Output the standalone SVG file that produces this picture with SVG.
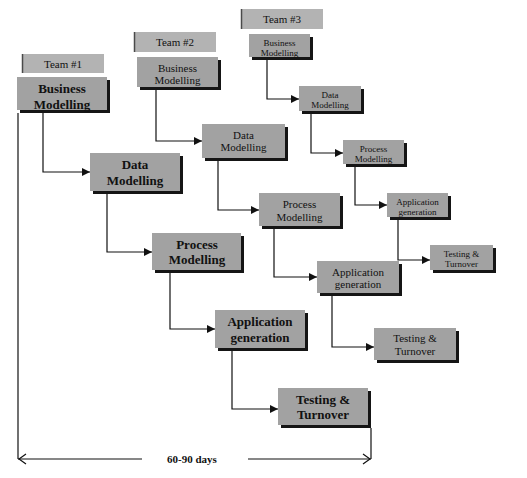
<svg xmlns="http://www.w3.org/2000/svg" width="527" height="478" viewBox="0 0 527 478">
<defs>
<marker id="arr" viewBox="0 0 10 10" refX="10" refY="5" markerWidth="9" markerHeight="8" markerUnits="userSpaceOnUse" orient="auto">
<path d="M0,0 L10,5 L0,10 Z" fill="#111"/>
</marker>
<style>
.box{fill:#a2a2a2}
.sh{fill:#151515}
.team{fill:#b3b3b3}
.tedge{stroke:#4a4a4a;stroke-width:1.5}
.conn{fill:none;stroke:#111;stroke-width:1.2}
text{font-family:'Liberation Serif','DejaVu Serif',serif;fill:#111;text-anchor:middle}
.b1{font-size:13px;font-weight:bold}
.r2{font-size:11px}
.r3{font-size:9px}
</style>
</defs>
<rect width="527" height="478" fill="#fff"/>

<g id="team1">
<rect x="22" y="54" width="82" height="19" class="team"/>
<line x1="22.5" y1="54" x2="22.5" y2="73" class="tedge"/>
<text x="63" y="67.5" class="r2" font-family="Liberation Serif">Team #1</text>
</g>
<g id="team2">
<rect x="134" y="32" width="82" height="20" class="team"/>
<line x1="134.5" y1="32" x2="134.5" y2="52" class="tedge"/>
<text x="175" y="46" class="r2">Team #2</text>
</g>
<g id="team3">
<rect x="241" y="9" width="82" height="20" class="team"/>
<line x1="241.5" y1="9" x2="241.5" y2="29" class="tedge"/>
<text x="282" y="23" class="r2">Team #3</text>
</g>

<g id="connectors">
<polyline class="conn" points="43,113 43,172 90,172" marker-end="url(#arr)"/>
<polyline class="conn" points="107,194 107,252 152,252" marker-end="url(#arr)"/>
<polyline class="conn" points="170,273 170,329 215,329" marker-end="url(#arr)"/>
<polyline class="conn" points="232,351 232,409 278,409" marker-end="url(#arr)"/>

<polyline class="conn" points="156,90 156,141 202,141" marker-end="url(#arr)"/>
<polyline class="conn" points="218,161 218,210 259,210" marker-end="url(#arr)"/>
<polyline class="conn" points="274,229 274,277 317,277" marker-end="url(#arr)"/>
<polyline class="conn" points="332,296 332,347 374,347" marker-end="url(#arr)"/>

<polyline class="conn" points="267,60 267,99 299,99" marker-end="url(#arr)"/>
<polyline class="conn" points="311,114 311,153 343,153" marker-end="url(#arr)"/>
<polyline class="conn" points="355,167 355,205 387,205" marker-end="url(#arr)"/>
<polyline class="conn" points="398,220 398,260 430,260" marker-end="url(#arr)"/>

<line class="conn" x1="18" y1="113" x2="18" y2="459"/>
<line class="conn" x1="371" y1="428" x2="371" y2="459"/>
<line class="conn" x1="18" y1="459" x2="142" y2="459"/>
<line class="conn" x1="248" y1="459" x2="371" y2="459"/>
<polyline class="conn" points="26,454 19,459 26,464"/>
<polyline class="conn" points="363,454 370,459 363,464"/>
</g>
<text x="192" y="463" style="font-size:11px;font-weight:bold">60-90 days</text>

<g id="t1-business">
<rect x="20" y="80" width="90" height="33" class="sh"/>
<rect x="17" y="77" width="90" height="33" class="box"/>
<text x="62" y="93" class="b1">Business</text>
<text x="62" y="108.5" class="b1">Modelling</text>
</g>
<g id="t1-data">
<rect x="93" y="156" width="90" height="38" class="sh"/>
<rect x="90" y="153" width="90" height="38" class="box"/>
<text x="135" y="169" class="b1">Data</text>
<text x="135" y="185" class="b1">Modelling</text>
</g>
<g id="t1-process">
<rect x="155" y="236" width="89" height="37" class="sh"/>
<rect x="152" y="233" width="89" height="37" class="box"/>
<text x="197" y="248.5" class="b1">Process</text>
<text x="197" y="264" class="b1">Modelling</text>
</g>
<g id="t1-application">
<rect x="218" y="313" width="90" height="38" class="sh"/>
<rect x="215" y="310" width="90" height="38" class="box"/>
<text x="260" y="326" class="b1">Application</text>
<text x="260" y="341.5" class="b1">generation</text>
</g>
<g id="t1-testing">
<rect x="281" y="391" width="90" height="37" class="sh"/>
<rect x="278" y="388" width="90" height="37" class="box"/>
<text x="323" y="403.5" class="b1">Testing &amp;</text>
<text x="323" y="419" class="b1">Turnover</text>
</g>

<g id="t2-business">
<rect x="140" y="60" width="81" height="30" class="sh"/>
<rect x="137" y="57" width="81" height="30" class="box"/>
<text x="177.5" y="72" class="r2">Business</text>
<text x="177.5" y="84" class="r2">Modelling</text>
</g>
<g id="t2-data">
<rect x="205" y="127" width="83" height="34" class="sh"/>
<rect x="202" y="124" width="83" height="34" class="box"/>
<text x="243.5" y="139" class="r2">Data</text>
<text x="243.5" y="151" class="r2">Modelling</text>
</g>
<g id="t2-process">
<rect x="262" y="196" width="81" height="33" class="sh"/>
<rect x="259" y="193" width="81" height="33" class="box"/>
<text x="299.5" y="208" class="r2">Process</text>
<text x="299.5" y="220.5" class="r2">Modelling</text>
</g>
<g id="t2-application">
<rect x="320" y="264" width="82" height="32" class="sh"/>
<rect x="317" y="261" width="82" height="32" class="box"/>
<text x="358" y="275.5" class="r2">Application</text>
<text x="358" y="288" class="r2">generation</text>
</g>
<g id="t2-testing">
<rect x="377" y="331" width="82" height="32" class="sh"/>
<rect x="374" y="328" width="82" height="32" class="box"/>
<text x="415" y="342" class="r2">Testing &amp;</text>
<text x="415" y="355" class="r2">Turnover</text>
</g>

<g id="t3-business">
<rect x="252" y="37" width="61" height="23" class="sh"/>
<rect x="249" y="34" width="61" height="23" class="box"/>
<text x="279.5" y="46" class="r3">Business</text>
<text x="279.5" y="55.5" class="r3">Modelling</text>
</g>
<g id="t3-data">
<rect x="302" y="89" width="62" height="25" class="sh"/>
<rect x="299" y="86" width="62" height="25" class="box"/>
<text x="330" y="98" class="r3">Data</text>
<text x="330" y="108" class="r3">Modelling</text>
</g>
<g id="t3-process">
<rect x="346" y="143" width="61" height="24" class="sh"/>
<rect x="343" y="140" width="61" height="24" class="box"/>
<text x="373.5" y="152" class="r3">Process</text>
<text x="373.5" y="162" class="r3">Modelling</text>
</g>
<g id="t3-application">
<rect x="390" y="196" width="61" height="24" class="sh"/>
<rect x="387" y="193" width="61" height="24" class="box"/>
<text x="417.5" y="205" class="r3">Application</text>
<text x="417.5" y="215" class="r3">generation</text>
</g>
<g id="t3-testing">
<rect x="433" y="248" width="63" height="25" class="sh"/>
<rect x="430" y="245" width="63" height="25" class="box"/>
<text x="461.5" y="257" class="r3">Testing &amp;</text>
<text x="461.5" y="267" class="r3">Turnover</text>
</g>
</svg>
